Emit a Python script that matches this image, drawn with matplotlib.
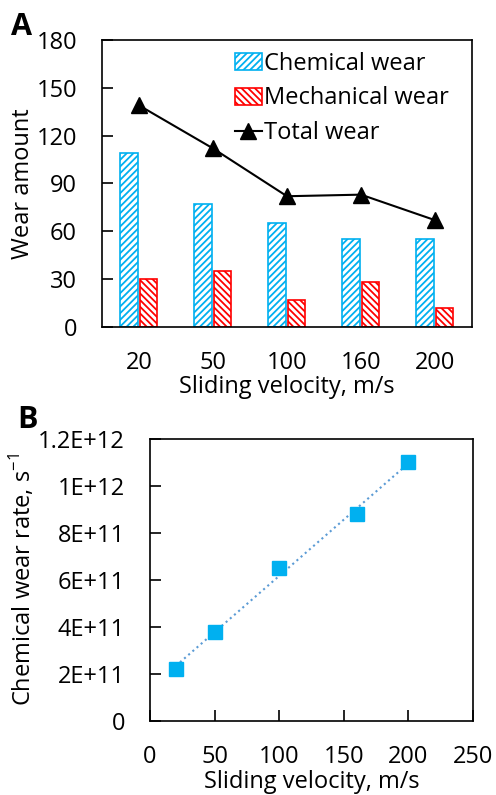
import matplotlib
matplotlib.use("Agg")
import matplotlib.pyplot as plt
import numpy as np

plt.rcParams['font.family'] = ['Open Sans', 'DejaVu Sans']
plt.rcParams['mathtext.fontset'] = 'custom'
plt.rcParams['mathtext.rm'] = 'Open Sans'
plt.rcParams['hatch.linewidth'] = 1.3

# panel A data
velocities = ['20', '50', '100', '160', '200']
chemical_wear = [109, 77, 65, 55, 55]
mechanical_wear = [30, 35, 17, 28, 12]
total_wear = [139, 112, 82, 83, 67]

# panel B data
velocity_b = [20, 50, 100, 160, 200]
chem_rate = [2.2e11, 3.8e11, 6.5e11, 8.8e11, 1.1e12]
rate_ticks = [0, 2e11, 4e11, 6e11, 8e11, 1e12, 1.2e12]
rate_ticklabels = ['0', '2E+11', '4E+11', '6E+11', '8E+11', '1E+12', '1.2E+12']

blue = '#00B0F0'
red = '#FF0000'
fs = 17

fig = plt.figure(figsize=(4.96, 7.95), dpi=100)

# ---- panel A
ax1 = fig.add_axes([0.2056, 0.5887, 0.746, 0.361])
x = np.arange(len(velocities))
w = 0.24
ax1.bar(x - 0.13, chemical_wear, w, color='white', edgecolor=blue, hatch='/////',
        linewidth=1.2, label='Chemical wear')
ax1.bar(x + 0.13, mechanical_wear, w, color='white', edgecolor=red, hatch='\\\\\\\\\\',
        linewidth=1.2, label='Mechanical wear')
ax1.plot(x, total_wear, color='black', marker='^', markersize=11, linewidth=1.5,
         label='Total wear')
ax1.set_xlim(-0.5, len(velocities) - 0.5)
ax1.set_ylim(0, 180)
ax1.set_yticks(range(0, 181, 30))
ax1.set_xticks(x)
ax1.set_xticklabels(velocities)
ax1.tick_params(axis='y', direction='in', length=8, width=1.2, pad=18, labelsize=fs)
ax1.tick_params(axis='x', length=0, pad=17, labelsize=fs)
ax1.set_ylabel('Wear amount', fontsize=fs)
ax1.yaxis.set_label_coords(-0.18, 0.5)
ax1.set_xlabel('Sliding velocity, m/s', fontsize=fs, labelpad=0)
for s in ax1.spines.values():
    s.set_linewidth(1.2)
h, l = ax1.get_legend_handles_labels()
ax1.legend(h[1:] + h[:1], l[1:] + l[:1], loc='upper right', frameon=False, fontsize=fs,
           handlelength=1.15, handleheight=0.75, handletextpad=0.1, labelspacing=0.45,
           borderaxespad=0.1, bbox_to_anchor=(0.97, 1.0))
fig.text(0.022, 0.985, 'A', fontsize=22, fontweight='bold', va='top')

# ---- panel B
ax2 = fig.add_axes([0.3024, 0.0931, 0.651, 0.3547])
fit = np.polyfit(velocity_b, chem_rate, 1)
xf = np.array([velocity_b[0], velocity_b[-1]])
ax2.plot(xf, np.polyval(fit, xf), color='#5B9BD5', linestyle=':', linewidth=1.5)
ax2.plot(velocity_b, chem_rate, linestyle='none', marker='s', markersize=10,
         color=blue)
ax2.set_xlim(0, 250)
ax2.set_ylim(0, 1.2e12)
ax2.set_xticks(range(0, 251, 50))
ax2.set_yticks(rate_ticks)
ax2.set_yticklabels(rate_ticklabels)
ax2.tick_params(axis='y', direction='in', length=8, width=1.2, pad=18, labelsize=fs)
ax2.tick_params(axis='x', direction='in', length=8, width=1.2, pad=17, labelsize=fs)
ax2.set_ylabel('Chemical wear rate, s$^{-1}$', fontsize=fs)
ax2.yaxis.set_label_coords(-0.35, 0.5)
ax2.set_xlabel('Sliding velocity, m/s', fontsize=fs, labelpad=1)
for s in ax2.spines.values():
    s.set_linewidth(1.2)
fig.text(0.035, 0.49, 'B', fontsize=22, fontweight='bold', va='top')

fig.savefig('out.png', dpi=100)
